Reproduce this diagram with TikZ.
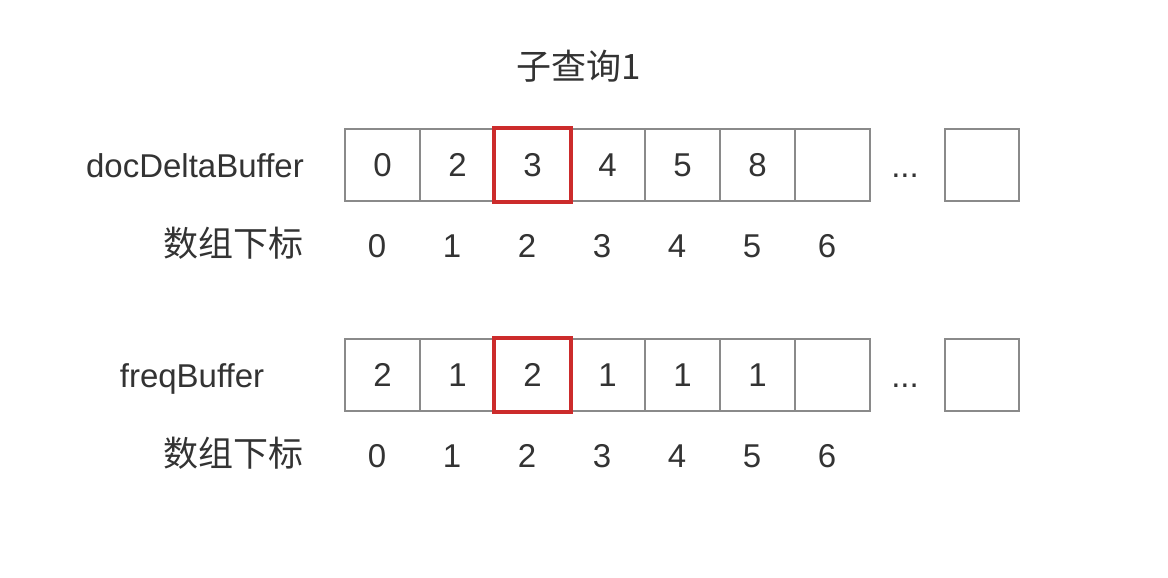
\documentclass[tikz,border=0pt]{standalone}
\usepackage{fontspec}
\setmainfont{Liberation Sans}
\newfontfamily\cjk{Noto Sans CJK SC}
\definecolor{boxgray}{HTML}{8A8A8A}
\definecolor{txt}{HTML}{333333}
\definecolor{hl}{HTML}{CC2B2B}
\begin{document}
\begin{tikzpicture}[x=1pt,y=-1pt,
  every node/.style={text=txt, font=\fontsize{33}{38}\selectfont, inner sep=0pt},
  cell/.style={draw=boxgray, line width=2pt, minimum width=75pt, minimum height=72pt, anchor=north west},
  hlframe/.style={draw=hl, line width=3.5pt},
  cjklabel/.style={font=\fontsize{35}{40}\selectfont\cjk},
]
\useasboundingbox[fill=white] (0,0) rectangle (1168,578);
% title
\node[cjklabel, anchor=base] (title) at (579,80) {子查询1};
% row labels
\node[anchor=base east] (lbl1) at (304,177) {docDeltaBuffer};
\node[cjklabel, anchor=base east] (idx1) at (304,256) {数组下标};
\node[anchor=base] (lbl2) at (192,387) {freqBuffer};
\node[cjklabel, anchor=base east] (idx2) at (304,466) {数组下标};
% row 1 cells
\foreach \v [count=\i from 0] in {0,2,3,4,5,8,{}} {
  \node[cell] (d\i) at ({344+75*\i},128) {\v};
  \node[anchor=base] (di\i) at ({377+75*\i},257) {\i};
}
\node[anchor=base] (ddots) at (905,177) {...};
\node[cell, minimum width=74pt] (dlast) at (944,128) {};
\draw[hlframe] (d2.north west) rectangle (d2.south east);
% row 2 cells
\foreach \v [count=\i from 0] in {2,1,2,1,1,1,{}} {
  \node[cell] (f\i) at ({344+75*\i},338) {\v};
  \node[anchor=base] (fi\i) at ({377+75*\i},467) {\i};
}
\node[anchor=base] (fdots) at (905,387) {...};
\node[cell, minimum width=74pt] (flast) at (944,338) {};
\draw[hlframe] (f2.north west) rectangle (f2.south east);
\end{tikzpicture}
\end{document}
